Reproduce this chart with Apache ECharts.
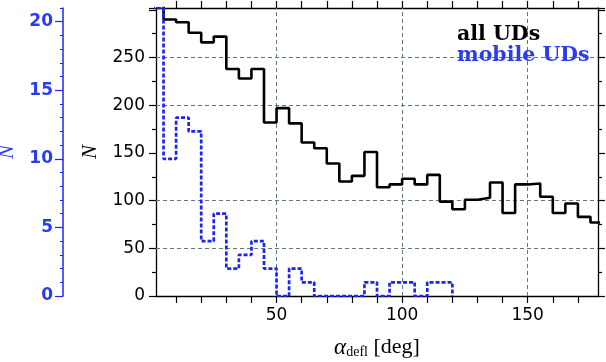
<!DOCTYPE html>
<html>
<head>
<meta charset="utf-8">
<script src="https://cdn.jsdelivr.net/npm/echarts@6/dist/echarts.min.js"></script>
<style>
html, body { margin: 0; padding: 0; background: #fff; }
#chart { width: 606px; height: 362px; }
</style>
</head>
<body>
<div id="chart"></div>
<script>
// histogram of deflection angle, 5 deg bins
const binWidth = 5
const binEdges = [0, 5, 10, 15, 20, 25, 30, 35, 40, 45, 50, 55, 60, 65, 70, 75, 80, 85,
  90, 95, 100, 105, 110, 115, 120, 125, 130, 135, 140, 145, 150, 155, 160, 165, 170, 175]
const allUDs = [310, 290, 287, 276, 266, 272, 238, 228, 238, 182, 197, 181, 161, 155, 139, 120, 126, 151,
  114, 117, 123, 117, 127, 99, 91, 101, 103, 119, 87, 117, 118, 104, 87, 97, 83, 77]
const mobileUDs = [21, 10, 13, 12, 4, 6, 2, 3, 4, 2, 0, 2, 1, 0, 0, 0, 0, 1,
  0, 1, 1, 0, 1, 1]

// axis ticks / labels / grid
const xTicks = [10, 20, 30, 40, 50, 60, 70, 80, 90, 100, 110, 120, 130, 140, 150, 160, 170]
const xLabels = [50, 100, 150]
const blueTicks = [0, 5, 10, 15, 20]
const gridX = [50, 100, 150]
const gridY = [50, 100, 200, 250]

const BLUE = '#1c24f5'
const BLUE_TEXT = '#2a3cf0'
const GRID = '#5f7884'

// turn bin counts into a closed step outline
function stepOutline(counts) {
  const pts = [[binEdges[0], 0]]
  counts.forEach((c, i) => pts.push([binEdges[i], c]))
  const end = binEdges[counts.length - 1] + binWidth
  pts.push([end, counts[counts.length - 1]])
  pts.push([end, 0])
  return pts
}

const chart = echarts.init(document.getElementById('chart'), null, { renderer: 'canvas' })

const frameLine = { show: true, onZero: false, lineStyle: { color: '#000', width: 1.3 } }
const tickStyle = { color: '#000', width: 1.2 }

chart.setOption({
  animation: false,
  grid: { left: 156, right: 8, top: 8, bottom: 66, containLabel: false, outerBoundsMode: 'none' },
  legend: {
    orient: 'vertical',
    left: 447,
    top: 19,
    icon: 'none',
    itemWidth: 0,
    itemGap: 0,
    selectedMode: false,
    textStyle: { fontFamily: 'DejaVu Serif', fontWeight: 'bold', fontSize: 20.5, lineHeight: 19 },
    data: [
      { name: 'all UDs', textStyle: { color: '#000' } },
      { name: 'mobile UDs', textStyle: { color: BLUE_TEXT } }
    ]
  },
  xAxis: [{
    type: 'value',
    position: 'bottom',
    min: 2,
    max: 178,
    axisLine: frameLine,
    axisTick: { show: true, length: 7, customValues: xTicks, lineStyle: tickStyle },
    axisLabel: {
      customValues: xLabels, color: '#000', fontFamily: 'DejaVu Sans', fontSize: 17, margin: 11
    },
    splitLine: { show: false },
    name: '{a|α}{s|defl}{b| [deg]}',
    nameLocation: 'middle',
    nameGap: 40,
    nameTextStyle: {
      color: '#000',
      rich: {
        a: { fontFamily: 'Liberation Serif', fontStyle: 'italic', fontSize: 23, color: '#000' },
        s: { fontFamily: 'Liberation Serif', fontSize: 14, color: '#000', padding: [9, 0, 0, 0] },
        b: { fontFamily: 'Liberation Serif', fontSize: 22, color: '#000' }
      }
    }
  }, {
    type: 'value',
    position: 'top',
    min: 2,
    max: 178,
    axisLine: frameLine,
    axisTick: { show: true, length: 7, customValues: xTicks, lineStyle: tickStyle },
    axisLabel: { show: false },
    splitLine: { show: false }
  }],
  yAxis: [{
    // black counts, left
    type: 'value',
    position: 'left',
    min: 0,
    max: 302,
    interval: 50,
    axisLine: frameLine,
    axisTick: { show: true, length: 7, lineStyle: tickStyle },
    minorTick: { show: true, splitNumber: 2, length: 4, lineStyle: tickStyle },
    axisLabel: {
      color: '#000', fontFamily: 'DejaVu Sans', fontSize: 17, margin: 11,
      showMaxLabel: false,
      formatter: v => (v >= 300 ? '' : v)
    },
    splitLine: { show: false },
    name: 'N',
    nameLocation: 'middle',
    nameRotate: 90,
    nameGap: 55,
    nameTextStyle: { fontFamily: 'Liberation Serif', fontStyle: 'italic', fontSize: 21, color: '#000' }
  }, {
    // mirror on the right
    type: 'value',
    position: 'right',
    min: 0,
    max: 302,
    interval: 50,
    axisLine: frameLine,
    axisTick: { show: true, length: 7, lineStyle: tickStyle },
    minorTick: { show: true, splitNumber: 2, length: 4, lineStyle: tickStyle },
    axisLabel: { show: false },
    splitLine: { show: false }
  }, {
    // blue counts (mobile), detached axis
    type: 'value',
    position: 'left',
    offset: 93,
    min: 0,
    max: 21,
    interval: 5,
    axisLine: { show: true, lineStyle: { color: BLUE, width: 1.5 } },
    axisTick: { show: true, length: 8, customValues: blueTicks, lineStyle: { color: BLUE, width: 1.2 } },
    axisLabel: {
      customValues: blueTicks, color: BLUE_TEXT, fontFamily: 'DejaVu Sans', fontWeight: 'bold',
      fontSize: 17, margin: 10
    },
    splitLine: { show: false },
    name: 'N',
    nameLocation: 'middle',
    nameRotate: 90,
    nameGap: 44,
    nameTextStyle: { fontFamily: 'Liberation Serif', fontStyle: 'italic', fontSize: 21, color: BLUE_TEXT }
  }, {
    // blue minor ticks
    type: 'value',
    position: 'left',
    offset: 93,
    min: 0,
    max: 21,
    interval: 1,
    axisLine: { show: false },
    axisTick: { show: true, length: 3, lineStyle: { color: BLUE, width: 1 } },
    axisLabel: { show: false },
    splitLine: { show: false }
  }],
  series: [{
    name: 'all UDs',
    type: 'line',
    step: 'end',
    xAxisIndex: 0,
    yAxisIndex: 0,
    z: 3,
    showSymbol: false,
    clip: true,
    data: stepOutline(allUDs),
    lineStyle: { color: '#000', width: 2.6 },
    itemStyle: { color: '#000' },
    markLine: {
      silent: true,
      z: 1,
      symbol: 'none',
      label: { show: false },
      emphasis: { disabled: true },
      lineStyle: { color: GRID, type: [4, 3], width: 1 },
      data: gridX.map(v => ({ xAxis: v })).concat(gridY.map(v => ({ yAxis: v })))
    }
  }, {
    name: 'mobile UDs',
    type: 'line',
    step: 'end',
    xAxisIndex: 0,
    yAxisIndex: 2,
    z: 4,
    showSymbol: false,
    clip: true,
    data: stepOutline(mobileUDs),
    lineStyle: { color: BLUE, width: 2.7, type: [4, 2] },
    itemStyle: { color: BLUE }
  }]
})
</script>
</body>
</html>
